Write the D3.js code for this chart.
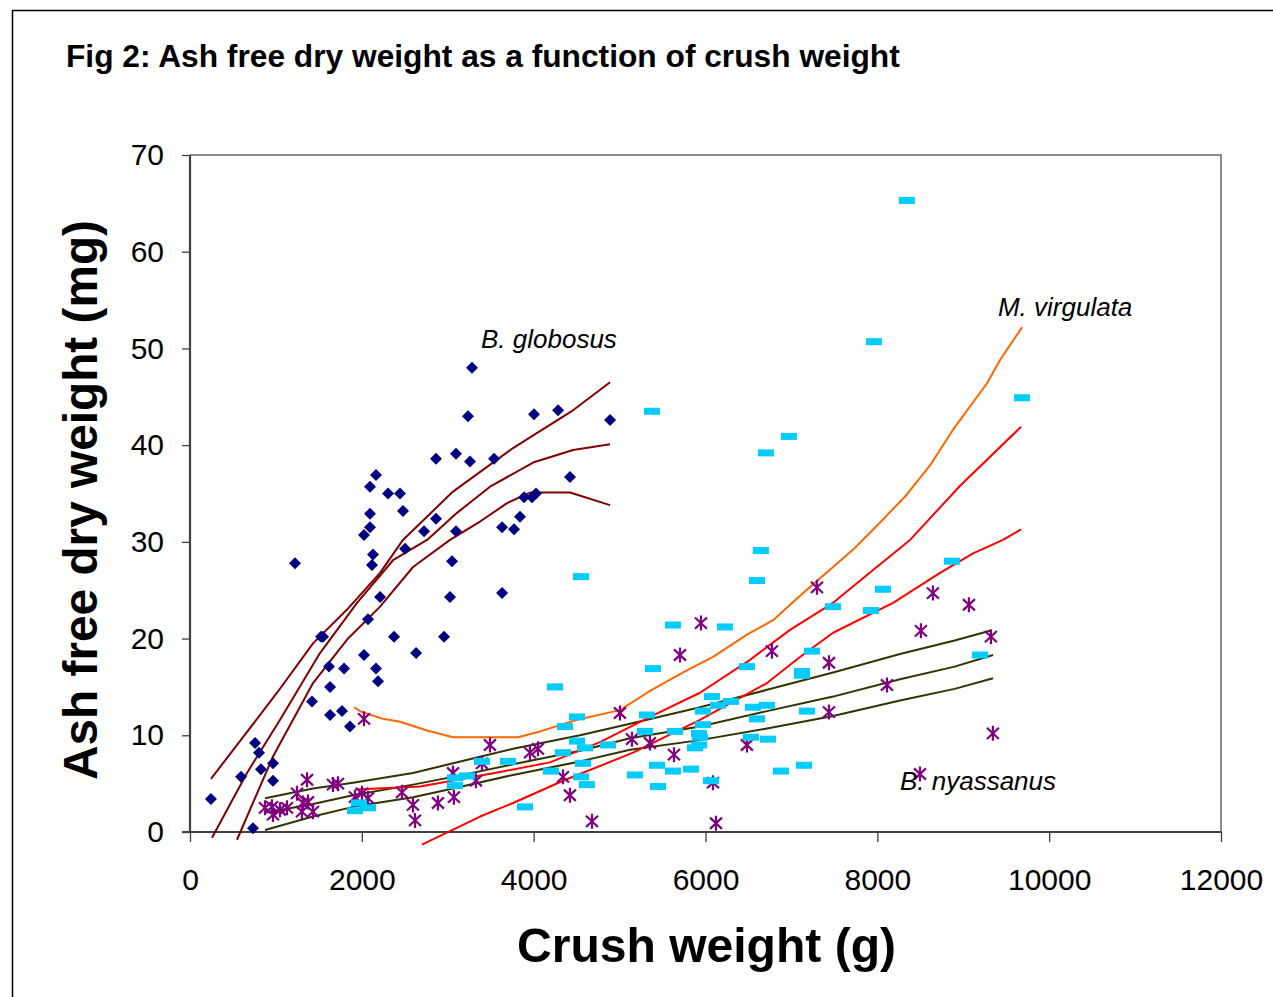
<!DOCTYPE html>
<html>
<head>
<meta charset="utf-8">
<script src="https://cdn.jsdelivr.net/npm/d3@7"></script>
<style>
  html, body { margin: 0; padding: 0; background: #fff; }
  svg { display: block; }
  text { font-family: "Liberation Sans", Arial, sans-serif; }
</style>
</head>
<body>
<script>
// ---------------- DATA ----------------
const xTicks = [0, 2000, 4000, 6000, 8000, 10000, 12000];
const yTicks = [0, 10, 20, 30, 40, 50, 60, 70];

// B. globosus observations (crush weight g, AFDW mg)
const globosusPts = [
  [244,3.4],[594,5.7],[733,0.4],[757,9.2],[803,8.2],[826,6.5],[966,7.1],[966,5.3],
  [1222,27.8],[1420,13.5],[1525,20.2],[1548,20.2],[1618,17.1],[1630,15.0],[1630,12.1],
  [1769,12.5],[1793,16.9],[1862,10.9],[2025,18.3],[2025,30.7],[2072,22.0],[2095,31.5],
  [2095,32.9],[2095,35.7],[2118,27.6],[2130,28.7],[2165,36.9],[2165,16.9],[2188,15.6],
  [2212,24.3],[2305,35.0],[2375,20.2],[2444,35.0],[2479,33.2],[2503,29.3],[2631,18.5],
  [2724,31.1],[2863,38.6],[2863,32.4],[2957,20.2],[3026,24.3],[3050,28.0],[3096,39.1],
  [3096,31.1],[3236,43.0],[3259,38.3],[3282,48.0],[3539,38.6],[3632,24.7],[3632,31.5],
  [3771,31.3],[3841,32.6],[3888,34.6],[3981,34.6],[4004,43.2],[4027,35.0],[4284,43.6],
  [4423,36.7],[4889,42.6]
];
// B. globosus fitted curve and bounds
const globosusUpper = [[244,5.5],[617,9.8],[1013,14.4],[1432,19.5],[1828,23.0],[2212,26.8],[2479,30.2],[3061,35.2],[3760,39.7],[3958,40.8],[4458,43.6],[4889,46.5]];
const globosusMid   = [[256,-0.6],[663,6.1],[1048,11.6],[1513,18.5],[1944,23.7],[2363,28.1],[2759,30.2],[3108,33.0],[3492,35.7],[3993,38.2],[4458,39.5],[4889,40.1]];
const globosusLower = [[547,-0.8],[966,7.8],[1432,15.4],[1828,19.9],[2212,23.3],[2596,27.4],[3026,30.2],[3376,32.1],[3690,34.0],[3958,35.1],[4423,35.1],[4889,33.8]];

// M. virgulata observations
const virgulataPts = [
  [1920,2.2],[1967,3.0],[2072,2.5],[3084,5.6],[3084,4.8],[3224,5.8],[3398,7.3],[3701,7.3],
  [3899,2.6],[4201,6.3],[4248,15.0],[4341,8.2],[4364,10.9],[4504,11.9],[4504,9.4],[4551,26.4],
  [4574,7.1],[4551,5.7],[4597,8.7],[4620,4.9],[4865,9.0],[5179,5.9],[5295,10.4],[5318,12.1],
  [5377,43.5],[5388,16.9],[5435,6.9],[5447,4.7],[5621,21.4],[5621,6.3],[5644,10.4],[5831,6.5],
  [5877,8.7],[5924,9.0],[5924,10.2],[5935,9.8],[5970,12.5],[5970,11.1],[6063,5.3],[6075,14.0],
  [6145,13.1],[6226,21.2],[6296,13.5],[6482,17.1],[6529,9.8],[6552,12.9],[6599,11.7],[6599,26.0],
  [6645,29.1],[6703,39.2],[6715,13.1],[6727,9.6],[6878,6.3],[6971,40.9],[7122,16.6],[7122,16.2],
  [7146,6.9],[7181,12.5],[7239,18.7],[7483,23.3],[7925,22.9],[7960,50.7],[8065,25.1],[8344,65.3],
  [8868,28.0],[9194,18.3],[9683,44.9]
];
// M. virgulata fitted curve and bounds
const virgulataUpper = [[1909,12.9],[2000,12.4],[2247,11.7],[2444,11.4],[2759,10.5],[3061,9.8],[3818,9.8],[4074,10.4],[4505,11.6],[5005,12.6],[5319,14.4],[5739,16.5],[6088,18.1],[6483,20.4],[6786,21.9],[7135,24.7],[7485,27.4],[7718,29.2],[8032,32.0],[8334,34.8],[8613,37.9],[8881,41.6],[9277,46.4],[9428,48.8],[9685,52.2]];
const virgulataMid   = [[1921,4.4],[2677,4.7],[3178,5.5],[3608,6.2],[4190,7.2],[4772,9.3],[5354,11.9],[5936,14.4],[6518,17.8],[6984,20.9],[7485,23.7],[7950,27.1],[8381,30.2],[8963,35.8],[9673,41.9]];
const virgulataLower = [[2700,-1.3],[3376,1.6],[3760,3.0],[4342,5.3],[5157,8.2],[5936,11.6],[6716,15.4],[7100,18.1],[7485,20.6],[8183,23.7],[8730,26.8],[9114,28.8],[9463,30.2],[9673,31.3]];

// B. nyassanus observations
const nyassanusPts = [
  [873,2.5],[954,2.6],[966,1.8],[1047,2.3],[1129,2.5],[1245,4.0],[1303,2.1],[1315,3.0],
  [1362,5.4],[1373,3.1],[1431,2.1],[1664,4.9],[1722,5.0],[1920,3.6],[2002,4.0],[2025,11.7],
  [2072,3.5],[2467,4.1],[2595,2.8],[2619,1.2],[2886,3.0],[3061,6.1],[3072,3.6],[3328,5.3],
  [3398,7.1],[3491,9.0],[3957,8.2],[4050,8.6],[4341,5.7],[4422,3.8],[4679,1.1],[5004,12.3],
  [5144,9.6],[5353,9.2],[5633,8.0],[5703,18.3],[5947,21.6],[6087,5.1],[6122,0.9],[6482,9.0],
  [6773,18.7],[7297,25.3],[7437,17.5],[7437,12.4],[8112,15.2],[8496,6.0],[8507,20.8],
  [8647,24.7],[9066,23.5],[9322,20.2],[9345,10.2]
];
// B. nyassanus fitted curve and bounds
const nyassanusUpper = [[873,3.5],[1432,4.5],[1897,5.1],[2596,6.1],[3061,7.1],[3760,8.6],[4540,10.0],[5122,11.2],[5936,12.9],[6716,14.7],[7485,16.5],[8264,18.4],[8900,19.8],[9312,20.8]];
const nyassanusMid   = [[873,2.0],[1432,2.9],[1897,3.8],[2596,4.9],[3061,5.7],[3760,7.0],[4540,8.4],[5122,9.7],[5936,10.9],[6716,12.5],[7485,14.0],[8264,15.8],[8900,17.1],[9347,18.3]];
const nyassanusLower = [[873,0.2],[1432,1.6],[1897,2.6],[2596,3.6],[3061,4.5],[3760,5.9],[4540,7.3],[5122,8.5],[5936,9.5],[6716,10.7],[7485,12.0],[8264,13.6],[8900,14.8],[9347,15.9]];

const speciesLabels = [
  { text: "B. globosus",  x: 3387, y: 50.0 },
  { text: "M. virgulata", x: 9404, y: 53.4 },
  { text: "B. nyassanus", x: 8263, y: 4.35 }
];

// ---------------- CHART ----------------
const W = 1273, H = 997;
const svg = d3.select("body").append("svg").attr("width", W).attr("height", H);

// outer frame
svg.append("rect").attr("x", 12.5).attr("y", 10.5).attr("width", W + 20).attr("height", H + 20)
  .attr("fill", "none").attr("stroke", "#000").attr("stroke-width", 1.5);

const x = d3.scaleLinear().domain([0, 12000]).range([190, 1221]);
const y = d3.scaleLinear().domain([0, 70]).range([832, 155]);

function fit(sel, target) {
  const fs = parseFloat(sel.attr("font-size"));
  const len = sel.node().getComputedTextLength();
  sel.attr("font-size", (fs * target / len).toFixed(2));
}

// title
const title = svg.append("text").attr("x", 66).attr("y", 67)
  .attr("font-size", 28).attr("font-weight", "bold").attr("fill", "#000")
  .text("Fig 2: Ash free dry weight as a function of crush weight");
fit(title, 834);

// plot frame (top/right)
svg.append("path")
  .attr("d", `M${x(0)},${y(70)}H${x(12000)}V${y(0)}`)
  .attr("fill", "none").attr("stroke", "#8c8c8c").attr("stroke-width", 2);

// axes
const gx = svg.append("g").attr("transform", `translate(0,${y(0)})`)
  .call(d3.axisBottom(x).tickValues(xTicks).tickFormat(d3.format("d")).tickSize(10).tickPadding(27).tickSizeOuter(0));
const gy = svg.append("g").attr("transform", `translate(${x(0)},0)`)
  .call(d3.axisLeft(y).tickValues(yTicks).tickSize(8).tickPadding(18).tickSizeOuter(0));
[gx, gy].forEach(g => {
  g.select(".domain").attr("stroke", "#404040").attr("stroke-width", 2.2);
  g.selectAll(".tick line").attr("stroke", "#404040").attr("stroke-width", 1.3);
  g.selectAll(".tick text").attr("font-size", 30).attr("fill", "#000")
    .attr("font-family", "'Liberation Sans', Arial, sans-serif");
});
gy.select(".domain").attr("d", `M0,${y(70)}V${y(0)}`);
gx.select(".domain").attr("d", `M${x(0) - 8},0H${x(12000)}`);

// axis titles
const xt = svg.append("text").attr("x", (x(0) + x(12000)) / 2 + 1).attr("y", 962)
  .attr("text-anchor", "middle").attr("font-size", 46).attr("font-weight", "bold").attr("fill", "#000")
  .text("Crush weight (g)");
fit(xt, 379);
const yt = svg.append("text").attr("transform", `translate(97,${(220 + 780) / 2}) rotate(-90)`)
  .attr("text-anchor", "middle").attr("font-size", 46).attr("font-weight", "bold").attr("fill", "#000")
  .text("Ash free dry weight (mg)");
fit(yt, 560);

// curves
const line = d3.line().x(d => x(d[0])).y(d => y(d[1]));
const curves = [
  [globosusUpper, "#800000"], [globosusMid, "#800000"], [globosusLower, "#800000"],
  [nyassanusUpper, "#333300"], [nyassanusMid, "#333300"], [nyassanusLower, "#333300"],
  [virgulataUpper, "#FF6600"], [virgulataMid, "#FF0000"], [virgulataLower, "#FF0000"]
];
curves.forEach(([data, col]) => {
  svg.append("path").datum(data).attr("d", line)
    .attr("fill", "none").attr("stroke", col).attr("stroke-width", 2).attr("stroke-linejoin", "round");
});

// B. globosus diamonds
svg.append("g").selectAll("path").data(globosusPts).join("path")
  .attr("transform", d => `translate(${x(d[0])},${y(d[1])})`)
  .attr("d", "M0,-6L6,0L0,6L-6,0Z")
  .attr("fill", "#000080");

// B. nyassanus asterisks
const r = 7.5;
svg.append("g").selectAll("path").data(nyassanusPts).join("path")
  .attr("transform", d => `translate(${x(d[0])},${y(d[1])})`)
  .attr("d", `M0,${-r}V${r}M${-r * 0.8},${-r * 0.75}L${r * 0.8},${r * 0.75}M${r * 0.8},${-r * 0.75}L${-r * 0.8},${r * 0.75}`)
  .attr("fill", "none").attr("stroke", "#800080").attr("stroke-width", 2.2);

// M. virgulata dashes
svg.append("g").selectAll("rect").data(virgulataPts).join("rect")
  .attr("x", d => x(d[0]) - 8).attr("y", d => y(d[1]) - 3.5)
  .attr("width", 16).attr("height", 7)
  .attr("fill", "#00CCFF");

// species labels
speciesLabels.forEach(l => {
  svg.append("text").attr("x", x(l.x)).attr("y", y(l.y))
    .attr("text-anchor", "start").attr("font-size", 26).attr("font-style", "italic").attr("fill", "#000")
    .text(l.text);
});
</script>
</body>
</html>
